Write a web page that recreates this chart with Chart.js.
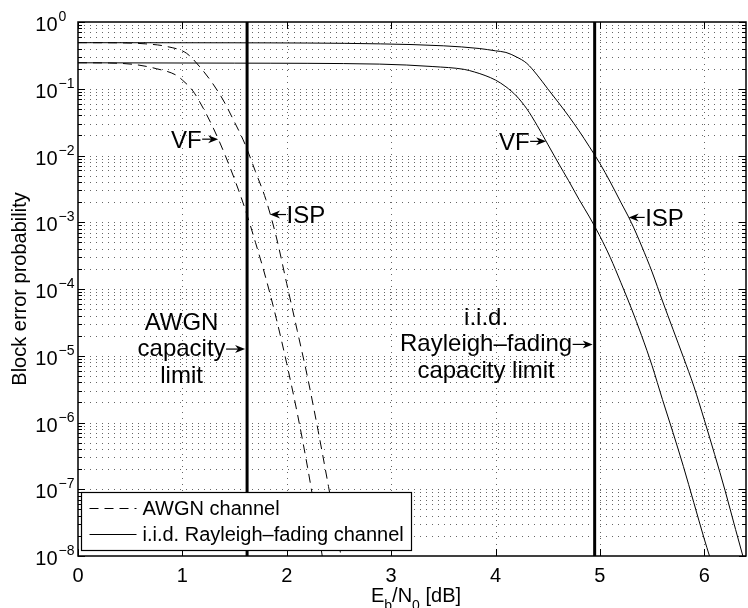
<!doctype html>
<html lang="en">
  <head>
    <meta charset="utf-8">
    <title>Block error probability</title>
    <style>
      * {
        margin: 0;
        padding: 0;
      }
      body {
        background: #fff;
      }
      .chartBox {
        width: 748px;
        height: 608px;
      }
    </style>
  </head>
  <body>
    <div class="chartBox">
      <canvas id="myChart" width="748" height="608"></canvas>
    </div>
    <script src="https://cdn.jsdelivr.net/npm/chart.js/dist/chart.umd.min.js"></script>
    <script>

    // Eb/N0 [dB] and block error probability, AWGN channel
    const awgnIspX = [0, 0.4, 0.65, 0.85, 1.04, 1.17, 1.29, 1.39, 1.49, 1.6, 1.7, 1.8, 1.9, 2.0, 2.1, 2.2, 2.3, 2.4, 2.52];
    const awgnIspY = [0.49, 0.487, 0.47, 0.43, 0.34, 0.21, 0.12, 0.068, 0.0339, 0.0148, 0.00575, 0.00219, 6.0e-4, 1.2e-4, 2.4e-5, 4.7e-6, 7.6e-7, 1.1e-7, 1e-8];

    const awgnVfX = [0, 0.3, 0.55, 0.75, 0.94, 1.0, 1.1, 1.2, 1.3, 1.4, 1.5, 1.6, 1.7, 1.8, 1.9, 2.0, 2.1, 2.2, 2.3, 2.34];
    const awgnVfY = [0.245, 0.243, 0.23, 0.2, 0.16, 0.135, 0.093, 0.051, 0.025, 0.011, 0.0044, 0.0016, 5.0e-4, 1.45e-4, 3.6e-5, 7.6e-6, 1.4e-6, 2.1e-7, 2.5e-8, 1e-8];

    // i.i.d. Rayleigh-fading channel
    const rayIspX = [0, 1.5, 2.9, 3.5, 3.85, 4.0, 4.1, 4.2, 4.3, 4.4, 4.5, 4.6, 4.7, 4.8, 4.9, 5.0, 5.1, 5.2, 5.3, 5.4, 5.5, 5.6, 5.7, 5.8, 5.9, 6.0, 6.1, 6.2, 6.3, 6.37];
    const rayIspY = [0.49, 0.488, 0.47, 0.44, 0.40, 0.37, 0.35, 0.30, 0.24, 0.16, 0.10, 0.063, 0.039, 0.0234, 0.0135, 0.0076, 0.004, 0.002, 0.001, 4.4e-4, 1.8e-4, 6.6e-5, 2.5e-5, 9.5e-6, 3.5e-6, 1.1e-6, 3.3e-7, 9.5e-8, 2.5e-8, 1e-8];

    const rayVfX = [0, 1.5, 2.89, 3.4, 3.7, 3.8, 3.9, 4.0, 4.1, 4.2, 4.3, 4.4, 4.5, 4.6, 4.7, 4.8, 4.9, 5.0, 5.1, 5.2, 5.3, 5.4, 5.5, 5.6, 5.7, 5.8, 5.9, 6.0, 6.05];
    const rayVfY = [0.245, 0.242, 0.234, 0.215, 0.195, 0.178, 0.158, 0.135, 0.107, 0.078, 0.05, 0.028, 0.0148, 0.0078, 0.0042, 0.0022, 0.0012, 6.2e-4, 2.95e-4, 1.26e-4, 5.2e-5, 2.0e-5, 7.1e-6, 2.2e-6, 7.1e-7, 2.2e-7, 6.3e-8, 1.8e-8, 1e-8];

    // capacity limits [dB]
    const awgnCapacity = 1.62;
    const rayleighCapacity = 4.95;

    // axes
    const xTicks = [0, 1, 2, 3, 4, 5, 6];
    const xMin = 0, xMax = 6.4;
    const yDecades = [0, -1, -2, -3, -4, -5, -6, -7, -8];
    const yMin = 1e-8, yMax = 1;

    const FONT = '"Liberation Sans", Arial, Helvetica, sans-serif';

    function toPoints(xs, ys) {
        return xs.map((x, i) => ({x: x, y: ys[i]}));
    }

    // log-linear lookup along a curve, used to put arrow tips on it
    function valueAt(xs, ys, x) {
        for (let i = 1; i < xs.length; i++) {
            if (x <= xs[i]) {
                const t = (x - xs[i - 1]) / (xs[i] - xs[i - 1]);
                const a = Math.log10(ys[i - 1]), b = Math.log10(ys[i]);
                return Math.pow(10, a + t * (b - a));
            }
        }
        return ys[ys.length - 1];
    }

    function drawArrow(ctx, fromX, toX, yy) {
        const dir = Math.sign(toX - fromX);
        ctx.lineWidth = 1.2;
        ctx.beginPath();
        ctx.moveTo(fromX, yy);
        ctx.lineTo(toX - dir * 5, yy);
        ctx.stroke();
        ctx.beginPath();
        ctx.moveTo(toX, yy);
        ctx.lineTo(toX - dir * 10, yy - 4);
        ctx.lineTo(toX - dir * 7, yy);
        ctx.lineTo(toX - dir * 10, yy + 4);
        ctx.closePath();
        ctx.fill();
    }

    // dotted grid, MATLAB style
    const gridPlugin = {
        id: 'dottedGrid',
        beforeDatasetsDraw(chart) {
            const {ctx, chartArea: {left, right, top, bottom}, scales: {x, y}} = chart;
            ctx.save();
            ctx.strokeStyle = 'rgba(0, 0, 0, 0.6)';
            ctx.lineWidth = 1;
            ctx.setLineDash([1, 5]);
            yDecades.forEach(k => {
                for (let m = 1; m < 10; m++) {
                    const v = m * Math.pow(10, k);
                    if (v <= yMin * 1.0001 || v >= yMax * 0.9999) continue;
                    const py = Math.round(y.getPixelForValue(v)) + 0.5;
                    ctx.beginPath();
                    ctx.moveTo(left, py);
                    ctx.lineTo(right, py);
                    ctx.stroke();
                }
            });
            xTicks.forEach(t => {
                if (t <= xMin || t >= xMax) return;
                const px = Math.round(x.getPixelForValue(t)) + 0.5;
                ctx.beginPath();
                ctx.moveTo(px, top);
                ctx.lineTo(px, bottom);
                ctx.stroke();
            });
            ctx.restore();
        }
    };

    // box, ticks, tick labels, axis titles and the curve labels
    const axesPlugin = {
        id: 'matlabAxes',
        afterDatasetsDraw(chart) {
            const {ctx, chartArea: {left, right, top, bottom}, scales: {x, y}} = chart;
            ctx.save();
            ctx.strokeStyle = '#000';
            ctx.fillStyle = '#000';

            // ticks (inside)
            ctx.lineWidth = 1;
            yDecades.forEach(k => {
                for (let m = 1; m < 10; m++) {
                    const v = m * Math.pow(10, k);
                    if (v < yMin * 0.9999 || v > yMax * 1.0001) continue;
                    const py = Math.round(y.getPixelForValue(v)) + 0.5;
                    const len = m === 1 ? 7 : 4;
                    ctx.beginPath();
                    ctx.moveTo(left, py); ctx.lineTo(left + len, py);
                    ctx.moveTo(right, py); ctx.lineTo(right - len, py);
                    ctx.stroke();
                }
            });
            xTicks.forEach(t => {
                const px = Math.round(x.getPixelForValue(t)) + 0.5;
                ctx.beginPath();
                ctx.moveTo(px, bottom); ctx.lineTo(px, bottom - 7);
                ctx.moveTo(px, top); ctx.lineTo(px, top + 7);
                ctx.stroke();
            });

            // box
            ctx.lineWidth = 1.5;
            ctx.strokeRect(left, top, right - left, bottom - top);

            // y tick labels 10^k
            yDecades.forEach(k => {
                const py = y.getPixelForValue(Math.pow(10, k));
                ctx.font = '20px ' + FONT;
                ctx.textAlign = 'right';
                ctx.textBaseline = 'alphabetic';
                ctx.fillText('10', left - 20.5, py + 9);
                ctx.font = '14px ' + FONT;
                ctx.textAlign = 'left';
                ctx.fillText(k === 0 ? '0' : '\u2212' + Math.abs(k), left - 19.5, py - 1);
            });

            // x tick labels
            ctx.font = '20px ' + FONT;
            ctx.textAlign = 'center';
            xTicks.forEach(t => {
                ctx.fillText(String(t), x.getPixelForValue(t), bottom + 25.5);
            });

            // x title: E_b/N_0 [dB]
            const parts = [['E', 20, 0], ['b', 14, 8], ['/N', 20, 0], ['0', 14, 8], [' [dB]', 20, 0]];
            let total = 0;
            parts.forEach(p => { ctx.font = p[1] + 'px ' + FONT; total += ctx.measureText(p[0]).width; });
            let cx = (left + right) / 2 + 4 - total / 2;
            ctx.textAlign = 'left';
            parts.forEach(p => {
                ctx.font = p[1] + 'px ' + FONT;
                ctx.fillText(p[0], cx, bottom + 46 + p[2]);
                cx += ctx.measureText(p[0]).width;
            });

            // y title
            ctx.save();
            ctx.translate(20, (top + bottom) / 2);
            ctx.rotate(-Math.PI / 2);
            ctx.font = '20px ' + FONT;
            ctx.textAlign = 'center';
            ctx.textBaseline = 'middle';
            ctx.fillText('Block error probability', 0, 0);
            ctx.restore();

            // VF / ISP labels with arrows onto the curves
            ctx.font = '24px ' + FONT;
            ctx.textBaseline = 'alphabetic';
            const pointers = [
                {xs: awgnVfX, ys: awgnVfY, at: 1.343, text: 'VF', side: 'left'},
                {xs: awgnIspX, ys: awgnIspY, at: 1.84, text: 'ISP', side: 'right'},
                {xs: rayVfX, ys: rayVfY, at: 4.485, text: 'VF', side: 'left'},
                {xs: rayIspX, ys: rayIspY, at: 5.276, text: 'ISP', side: 'right'}
            ];
            pointers.forEach(p => {
                const tx = x.getPixelForValue(p.at);
                const ty = y.getPixelForValue(valueAt(p.xs, p.ys, p.at));
                if (p.side === 'left') {
                    drawArrow(ctx, tx - 16, tx, ty);
                    ctx.textAlign = 'right';
                    ctx.fillText(p.text, tx - 16.5, ty + 8.5);
                } else {
                    drawArrow(ctx, tx + 16, tx, ty);
                    ctx.textAlign = 'left';
                    ctx.fillText(p.text, tx + 16.5, ty + 8.5);
                }
            });

            // capacity limit labels
            const limits = [
                {at: awgnCapacity, level: Math.pow(10, -4.9), lines: ['AWGN', 'capacity', 'limit'], gap: 19},
                {at: rayleighCapacity, level: Math.pow(10, -4.83), lines: ['i.i.d.', 'Rayleigh\u2013fading', 'capacity limit'], gap: 20}
            ];
            limits.forEach(l => {
                const tx = x.getPixelForValue(l.at) - 2;
                const ty = y.getPixelForValue(l.level);
                drawArrow(ctx, tx - l.gap, tx, ty);
                const end = tx - l.gap - 0.5;
                const mid = end - ctx.measureText(l.lines[1]).width / 2;
                ctx.textAlign = 'center';
                ctx.fillText(l.lines[0], mid, ty + 7 - 26.5);
                ctx.fillText(l.lines[1], mid, ty + 7);
                ctx.fillText(l.lines[2], mid, ty + 7 + 26.5);
            });

            ctx.restore();
        },

        // legend box in the lower left corner
        afterDraw(chart) {
            const {ctx, chartArea: {left, bottom}} = chart;
            const bx = left + 3.5, by = bottom - 63.5, bw = 330, bh = 58;
            ctx.save();
            ctx.fillStyle = '#fff';
            ctx.fillRect(bx, by, bw, bh);
            ctx.strokeStyle = '#000';
            ctx.lineWidth = 1.2;
            ctx.strokeRect(bx, by, bw, bh);

            const rows = [
                {label: 'AWGN channel', dash: [9, 6]},
                {label: 'i.i.d. Rayleigh\u2013fading channel', dash: []}
            ];
            ctx.font = '20px ' + FONT;
            ctx.textAlign = 'left';
            ctx.textBaseline = 'middle';
            rows.forEach((r, i) => {
                const ry = by + 16 + i * 26;
                ctx.lineWidth = 1;
                ctx.setLineDash(r.dash);
                ctx.beginPath();
                ctx.moveTo(bx + 8, ry);
                ctx.lineTo(bx + 55, ry);
                ctx.stroke();
                ctx.setLineDash([]);
                ctx.fillStyle = '#000';
                ctx.fillText(r.label, bx + 61, ry + 1);
            });
            ctx.restore();
        }
    };

    const curveStyle = {
        showLine: true,
        borderColor: '#000',
        borderWidth: 1,
        pointRadius: 0,
        cubicInterpolationMode: 'monotone',
        fill: false
    };

    const limitStyle = {
        showLine: true,
        borderColor: '#000',
        borderWidth: 3,
        pointRadius: 0,
        fill: false
    };

    const data = {
        datasets: [
            Object.assign({label: 'AWGN ISP', data: toPoints(awgnIspX, awgnIspY), borderDash: [9, 6]}, curveStyle),
            Object.assign({label: 'AWGN VF', data: toPoints(awgnVfX, awgnVfY), borderDash: [9, 6]}, curveStyle),
            Object.assign({label: 'Rayleigh ISP', data: toPoints(rayIspX, rayIspY)}, curveStyle),
            Object.assign({label: 'Rayleigh VF', data: toPoints(rayVfX, rayVfY)}, curveStyle),
            Object.assign({label: 'AWGN capacity', data: [{x: awgnCapacity, y: yMin}, {x: awgnCapacity, y: yMax}]}, limitStyle),
            Object.assign({label: 'Rayleigh capacity', data: [{x: rayleighCapacity, y: yMin}, {x: rayleighCapacity, y: yMax}]}, limitStyle)
        ]
    };

    const config = {
        type: 'scatter',
        data,
        options: {
            responsive: false,
            devicePixelRatio: 1,
            animation: false,
            layout: {
                padding: {left: 78, top: 22, right: 2, bottom: 52}
            },
            plugins: {
                legend: {display: false},
                tooltip: {enabled: false}
            },
            scales: {
                x: {type: 'linear', min: xMin, max: xMax, display: false},
                y: {type: 'logarithmic', min: yMin, max: yMax, display: false}
            }
        },
        plugins: [gridPlugin, axesPlugin]
    };

    const myChart = new Chart(document.getElementById('myChart'), config);

    </script>
  </body>
</html>
